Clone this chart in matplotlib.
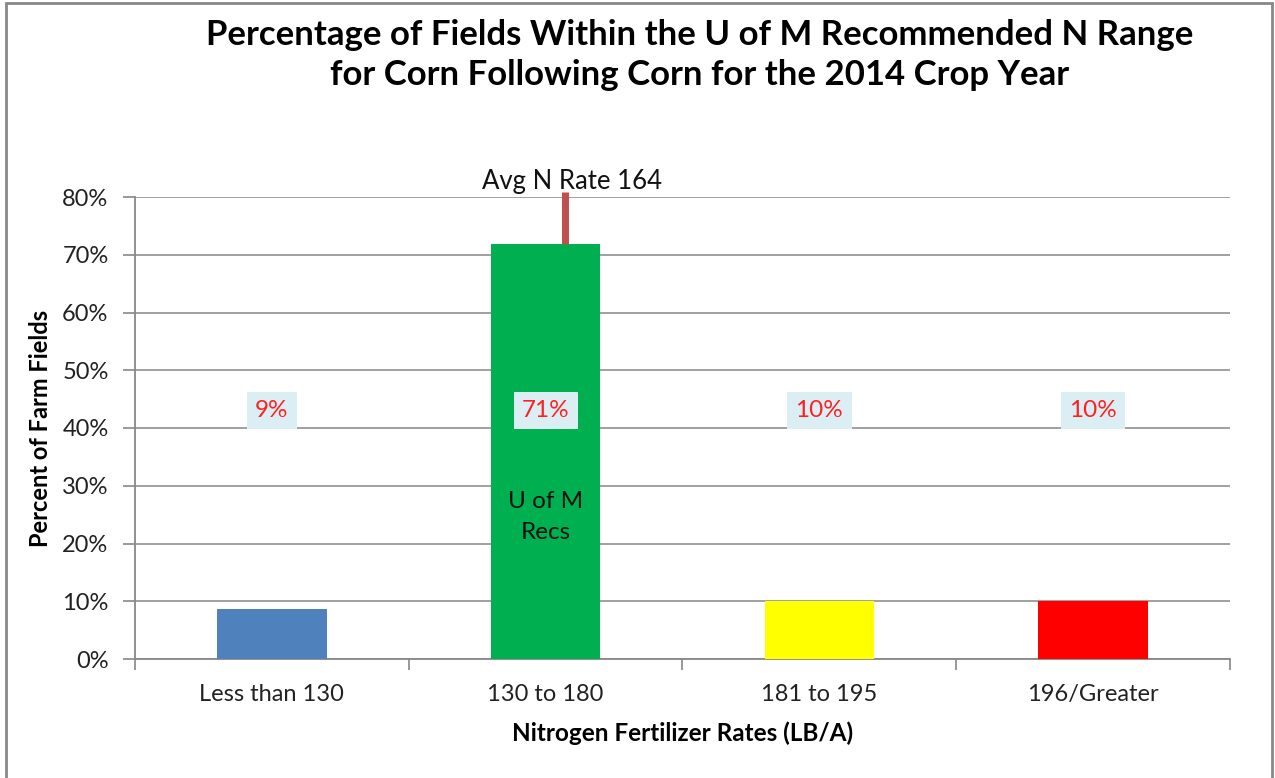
import matplotlib.pyplot as plt
from matplotlib.patches import Rectangle

categories = ['Less than 130', '130 to 180', '181 to 195', '196/Greater']
percents = [8.7, 71.8, 10.0, 10.0]
labels = ['9%', '71%', '10%', '10%']
colors = ['#4f81bd', '#00b050', '#ffff00', '#ff0000']
avg_rate = 164
rec_low, rec_high = 130, 180

plt.rcParams['font.family'] = ['Lato', 'DejaVu Sans']

fig = plt.figure(figsize=(12.75, 7.78), dpi=100)
ax = fig.add_axes([135/1275, 1 - 659/778, 1095/1275, 462/778])

x = range(len(categories))
bw = 0.4
ax.bar(x, percents, width=bw, color=colors, zorder=3)

ax.set_xlim(-0.5, 3.5)
ax.set_ylim(0, 80)
ax.set_yticks(range(0, 81, 10))
ax.set_yticklabels(['%d%%' % v for v in range(0, 81, 10)], fontsize=17, color='#222222')
ax.set_xticks(list(x))
ax.set_xticklabels(categories, fontsize=17, color='#222222')
ax.set_xticks([-0.5, 0.5, 1.5, 2.5, 3.5], minor=True)
ax.tick_params(axis='x', which='major', length=0, pad=18)
ax.tick_params(axis='x', which='minor', length=8, color='#888888', width=1.2)
ax.tick_params(axis='y', length=9, color='#888888', width=1.2, pad=10)
ax.grid(axis='y', color='#999999', lw=1.3, zorder=0)
for s in ['top', 'right']:
    ax.spines[s].set_visible(False)
for s in ['left', 'bottom']:
    ax.spines[s].set_color('#888888')
    ax.spines[s].set_linewidth(1.3)

# value labels
for i, lab in enumerate(labels):
    ax.text(i, 43, lab, ha='center', va='center', color='#ff2020', fontsize=17.5,
            bbox=dict(facecolor='#dbeef4', edgecolor='none', pad=6), zorder=5)

ax.text(1, 24.6, 'U of M\nRecs', ha='center', va='center', fontsize=17.5,
        color='#111111', linespacing=1.6, zorder=5)

# average N rate marker
xr = 1 - bw / 2 + (avg_rate - rec_low) / (rec_high - rec_low) * bw
ax.plot([xr, xr], [percents[1], 80.8], color='#c0504d', lw=5, clip_on=False, zorder=4,
        solid_capstyle='butt')
ax.text(xr + 0.025, 82.6, 'Avg N Rate %d' % avg_rate, ha='center', va='center',
        fontsize=18.5, color='#111111')

ax.set_ylabel('Percent of Farm Fields', fontsize=17, fontweight='bold', labelpad=7)
ax.set_xlabel('Nitrogen Fertilizer Rates (LB/A)', fontsize=17.5, fontweight='bold', labelpad=12)

fig.text(700/1275, 1 - 55/778,
         'Percentage of Fields Within the U of M Recommended N Range\n'
         'for Corn Following Corn for the 2014 Crop Year',
         ha='center', va='center', fontsize=25, fontweight='bold', linespacing=1.32)

fig.patches.append(Rectangle((6/1275, -0.1), 1266/1275, 1.1 - 3/778, transform=fig.transFigure,
                             fill=False, edgecolor='#888888', lw=2))

fig.savefig('out.png', dpi=100)
